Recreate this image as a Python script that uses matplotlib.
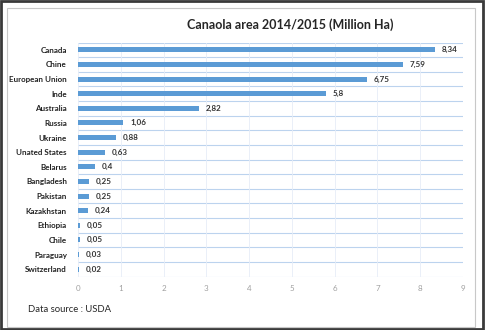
import matplotlib.pyplot as plt
from matplotlib.patches import Rectangle
import numpy as np

countries = ['Canada', 'Chine', 'European Union', 'Inde', 'Australia', 'Russia',
             'Ukraine', 'Unated States', 'Belarus', 'Bangladesh', 'Pakistan',
             'Kazakhstan', 'Ethiopia', 'Chile', 'Paraguay', 'Switzerland']
area = [8.34, 7.59, 6.75, 5.8, 2.82, 1.06, 0.88, 0.63, 0.4, 0.25, 0.25,
        0.24, 0.05, 0.05, 0.03, 0.02]
labels = ['8,34', '7,59', '6,75', '5,8', '2,82', '1,06', '0,88', '0,63', '0,4',
          '0,25', '0,25', '0,24', '0,05', '0,05', '0,03', '0,02']

plt.rcParams['font.family'] = ['Lato', 'DejaVu Sans']

fig = plt.figure(figsize=(4.87, 3.30), dpi=100)
ax = fig.add_axes([78/487, 1-276.5/330, 385/487, 234/330])

y = np.arange(len(countries))
ax.barh(y, area, height=0.35, color='#5b9bd5', zorder=3)
for yi, v, t in zip(y, area, labels):
    ax.text(v + 0.16, yi, t, va='center', ha='left', fontsize=5.8,
            fontweight='bold', color='#333333')

ax.set_xlim(0, 9)
ax.set_ylim(len(countries) - 0.5, -0.5)
ax.set_xticks(range(10))
ax.set_yticks(y)
ax.set_yticklabels(countries, fontsize=5.8, fontweight='bold', color='#222222')
ax.tick_params(axis='x', labelsize=5.8, labelcolor='#a0a0a0', length=0, pad=6)
ax.tick_params(axis='y', length=0, pad=8)

# grid lines
for b in np.arange(-0.5, len(countries)):
    ax.axhline(b, color='#bcd3ee', lw=0.8, zorder=1)
ax.grid(axis='x', color='#e6edf7', lw=0.6, zorder=0)
for s in ax.spines.values():
    s.set_visible(False)

fig.text(290/487, 1-25/330, 'Canaola area 2014/2015 (Million Ha)', ha='center',
         va='center', fontsize=9, fontweight='bold', color='#262626')
fig.text(28/487, 1-310/330, 'Data source : USDA', ha='left', va='center',
         fontsize=6.8, color='#262626')

# frames
fig.patches.append(Rectangle((7/487, 1-327/330), 468/487, 319/330,
                             transform=fig.transFigure, fill=False,
                             edgecolor='#c8c8c8', lw=0.8))
fig.patches.append(Rectangle((1/487, 1/330), 482/487, 328/330,
                             transform=fig.transFigure, fill=False,
                             edgecolor='#3a3a3a', lw=2))

fig.savefig('out.png', dpi=100)
